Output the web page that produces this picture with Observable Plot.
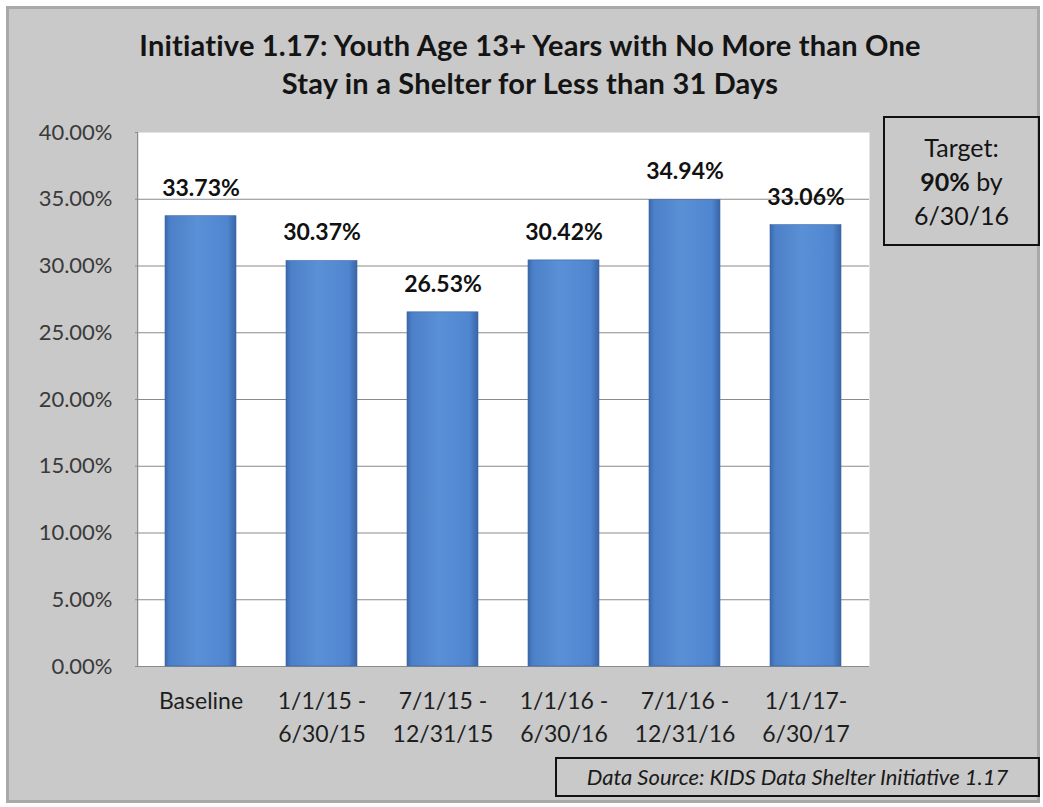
<!DOCTYPE html>
<html>
<head>
<meta charset="utf-8">
<script src="https://cdn.jsdelivr.net/npm/d3@7"></script>
<script src="https://cdn.jsdelivr.net/npm/@observablehq/plot@0.6"></script>
<style>
  body { margin: 0; background: #ffffff; }
  #chart { position: relative; width: 1043px; height: 807px; font-family: Lato, "Open Sans", sans-serif; color: #141414; }
  #panel { position: absolute; left: 6px; top: 6px; width: 1028px; height: 791px; border: 3px solid #a9a9a9; background: #c9c9c9; }
  #title { position: absolute; left: 80px; width: 900px; top: 26px; text-align: center; font-weight: 700; font-size: 29px; letter-spacing: 0.2px; line-height: 38px; color: #141414; }
  #target { position: absolute; left: 883px; top: 116px; width: 153px; height: 126px; border: 2px solid #111; text-align: center; font-size: 25px; line-height: 34px; }
  #target .inner { margin-top: 12px; }
  #source { position: absolute; left: 555px; top: 757px; width: 481px; height: 36px; border: 2px solid #111; text-align: center; font-style: italic; font-size: 22px; line-height: 36px; color: #1a1a1a; }
  #plot { position: absolute; left: 0; top: 0; }
</style>
</head>
<body>
<div id="chart">
  <div id="panel"></div>
  <div id="title">Initiative 1.17: Youth Age 13+ Years with No More than One<br>Stay in a Shelter for Less than 31 Days</div>
  <div id="plot"></div>
  <div id="target"><div class="inner">Target:<br><b>90%</b> by<br>6/30/16</div></div>
  <div id="source">Data Source: KIDS Data Shelter Initiative 1.17</div>
</div>
<script>
// Reporting periods and the share of youth meeting the measure in each
const periods = [
  "Baseline",
  "1/1/15 -\n6/30/15",
  "7/1/15 -\n12/31/15",
  "1/1/16 -\n6/30/16",
  "7/1/16 -\n12/31/16",
  "1/1/17-\n6/30/17"
];
const shares = [0.3373, 0.3037, 0.2653, 0.3042, 0.3494, 0.3306];

// Value-axis ticks
const yTicks = [0, 0.05, 0.10, 0.15, 0.20, 0.25, 0.30, 0.35, 0.40];

const rows = periods.map((period, i) => ({period, share: shares[i]}));
const pct = d3.format(".2%");
const NS = "http://www.w3.org/2000/svg";

// Bevelled blue fill for the columns
function barGradient() {
  const defs = document.createElementNS(NS, "defs");
  const grad = document.createElementNS(NS, "linearGradient");
  grad.setAttribute("id", "barGrad");
  grad.setAttribute("x1", "0"); grad.setAttribute("x2", "1");
  grad.setAttribute("y1", "0"); grad.setAttribute("y2", "0");
  [["0%", "#3b68aa"], ["7%", "#4c80c8"], ["45%", "#5a90d6"], ["88%", "#4f86cf"], ["100%", "#3a65a6"]].forEach(([o, c]) => {
    const s = document.createElementNS(NS, "stop");
    s.setAttribute("offset", o); s.setAttribute("stop-color", c);
    grad.appendChild(s);
  });
  defs.appendChild(grad);
  return defs;
}

// Left edge of the plotting area
function leftEdge(index, scales, values, dims) {
  const line = document.createElementNS(NS, "line");
  const x = dims.marginLeft - 0.5;
  line.setAttribute("x1", x); line.setAttribute("x2", x);
  line.setAttribute("y1", dims.marginTop); line.setAttribute("y2", dims.height - dims.marginBottom);
  line.setAttribute("stroke", "#8a8a8a");
  return line;
}

const chart = Plot.plot({
  width: 1043,
  height: 807,
  marginLeft: 138,
  marginRight: 174,
  marginTop: 132,
  marginBottom: 141,
  style: {background: "transparent", fontFamily: "Lato, 'Open Sans', sans-serif", overflow: "visible"},
  x: {domain: periods, paddingInner: 0.41, paddingOuter: 0.205, label: null},
  y: {domain: [0, 0.40], label: null},
  marks: [
    barGradient,
    Plot.frame({fill: "white", stroke: null}),
    Plot.gridY(yTicks.filter(t => t < 0.40), {stroke: "#8a8a8a", strokeOpacity: 1}),
    leftEdge,
    Plot.axisY({ticks: yTicks, tickFormat: pct, tickSize: 3, tickPadding: 23, stroke: "#8a8a8a", fill: "#3a3a3a", fontSize: 22, label: null}),
    Plot.axisX({tickSize: 0, tickPadding: 19, fill: "#1e1e1e", fontSize: 23, lineHeight: 1.43, label: null}),
    Plot.barY(rows, {x: "period", y: "share", fill: "url(#barGrad)", stroke: "#3a64a3", strokeWidth: 0.6}),
    Plot.text(rows, {x: "period", y: "share", text: d => pct(d.share), dy: -28, lineAnchor: "middle", fontSize: 23, fontWeight: "bold", fill: "#111"})
  ]
});

document.getElementById("plot").appendChild(chart);
</script>
</body>
</html>
